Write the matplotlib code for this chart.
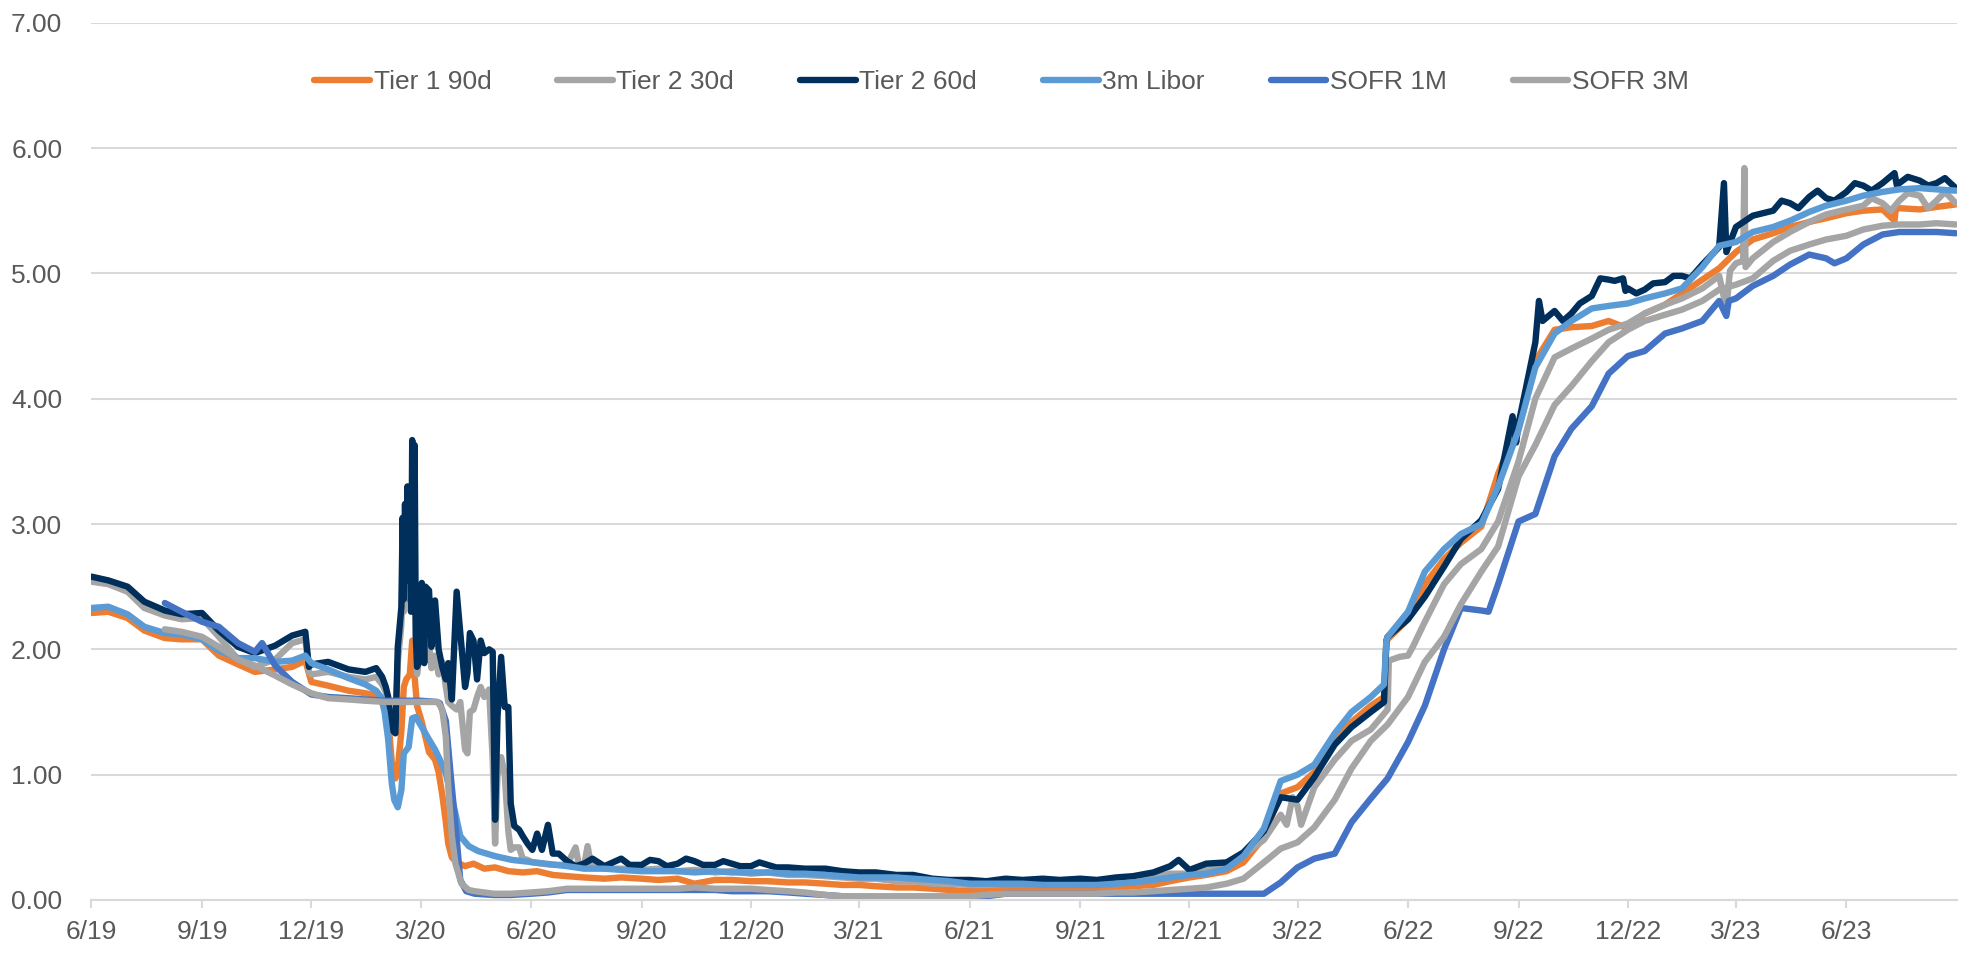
import numpy as np
import pandas as pd
import matplotlib
matplotlib.use("Agg")
import matplotlib.pyplot as plt
from matplotlib import font_manager

nan = np.nan

# Semi-monthly observation grid (1st and 15th) plus the final observation
grid_dates = list(pd.date_range("2019-06-01", "2023-08-15", freq="SMS")) + [pd.Timestamp("2023-08-31")]

series_names = ["Tier 1 90d", "Tier 2 30d", "Tier 2 60d", "3m Libor", "SOFR 1M", "SOFR 3M"]
series_colors = ["#ED7D31", "#A5A5A5", "#002F5C", "#5B9BD5", "#4472C4", "#A5A5A5"]

tick_labels = ["6/19", "9/19", "12/19", "3/20", "6/20", "9/20", "12/20", "3/21", "6/21",
               "9/21", "12/21", "3/22", "6/22", "9/22", "12/22", "3/23", "6/23"]

# ---------------- Tier 1 90d ----------------
tier1_90 = [
    2.29, 2.30, 2.25, 2.15, 2.09, 2.08, 2.08, 1.95, 1.88, 1.82, 1.84, 1.86, 1.74, 1.71,
    1.67, 1.65, nan, nan, nan, nan, nan, nan, nan, nan, nan, nan,
    0.19, 0.18, 0.17, 0.18, 0.17, 0.16, 0.17, 0.13, 0.16, 0.16, 0.15, 0.15,
    0.14, 0.14, 0.13, 0.12, 0.12, 0.11, 0.10, 0.10, 0.09, 0.08, 0.07, 0.09,
    0.09, 0.09, 0.09, 0.09, 0.09, 0.10, 0.10, 0.11, 0.12, 0.15, 0.18, 0.20,
    0.23, 0.30, 0.50, 0.85, 0.90, 1.02, 1.28, 1.42, 1.55, 2.08, 2.24, 2.52,
    2.72, 2.85, 2.98, 3.40, 3.80, 4.30, 4.55, 4.57, 4.58, 4.62, 4.56, 4.68,
    4.75, 4.84, 4.95, 5.04, 5.17, 5.27, 5.32, 5.37, 5.41, 5.44, 5.48, 5.50,
    5.51, 5.52, 5.51, 5.53, 5.55,
]
tier1_90_extra_dates = [
    "2019-11-26", "2020-01-24", "2020-01-29", "2020-02-01", "2020-02-03", "2020-02-06",
    "2020-02-09", "2020-02-11", "2020-02-14", "2020-02-16", "2020-02-18", "2020-02-21",
    "2020-02-23", "2020-02-25", "2020-02-27", "2020-03-02", "2020-03-05", "2020-03-08",
    "2020-03-13", "2020-03-16", "2020-03-19", "2020-03-22", "2020-03-24", "2020-03-27",
    "2020-03-31", "2020-04-07", "2020-04-14", "2020-04-23", "2020-05-02", "2020-05-13",
    "2020-05-25", "2020-06-06", "2020-06-19", "2022-05-12", "2022-05-14", "2023-07-11",
    "2023-07-12",
]
tier1_90_extra_vals = [
    1.91, 1.63, 1.60, 1.55, 1.45, 1.10,
    0.97, 1.05, 1.35, 1.70, 1.76, 1.80,
    2.07, 1.78, 1.55, 1.42, 1.30, 1.18,
    1.12, 1.02, 0.84, 0.62, 0.45, 0.34,
    0.30, 0.27, 0.29, 0.25, 0.26, 0.23,
    0.22, 0.23, 0.20, 1.62, 2.06, 5.42,
    5.51,
]

# ---------------- Tier 2 30d ----------------
tier2_30 = [
    2.54, 2.52, 2.46, 2.33, 2.27, 2.24, 2.25, 2.10, 1.92, 1.86, 1.92, 2.05, 1.80, 1.82,
    1.78, 1.76, nan, nan, nan, nan, nan, nan, nan, nan, nan, nan,
    0.28, 0.27, 0.25, 0.25, 0.24, 0.25, 0.23, 0.24, 0.22, 0.23, 0.21, 0.22,
    0.20, 0.20, 0.19, 0.18, 0.17, 0.17, 0.15, 0.15, 0.13, 0.13, 0.12, 0.12,
    0.13, 0.13, 0.13, 0.13, 0.14, 0.14, 0.15, 0.16, 0.18, 0.21, 0.21, 0.24,
    0.26, 0.36, 0.48, 0.68, 0.75, 0.90, 1.12, 1.27, 1.36, 1.52, 1.95, 2.22,
    2.52, 2.68, 2.80, 3.02, 3.50, 4.00, 4.33, 4.40, 4.48, 4.55, 4.60, 4.68,
    4.75, 4.80, 4.88, 4.98, 5.08, 5.12, 5.25, 5.33, 5.41, 5.47, 5.51, 5.54,
    5.56, 5.58, 5.62, 5.58, 5.56,
]
tier2_30_extra_dates = [
    "2019-11-26", "2019-11-29", "2020-01-24", "2020-01-29", "2020-02-01", "2020-02-03",
    "2020-02-06", "2020-02-09", "2020-02-11", "2020-02-14", "2020-02-15", "2020-02-16",
    "2020-02-17", "2020-02-18", "2020-02-19", "2020-02-20", "2020-02-21", "2020-02-23",
    "2020-02-25", "2020-02-27", "2020-03-02", "2020-03-05", "2020-03-08", "2020-03-10",
    "2020-03-13", "2020-03-16", "2020-03-19", "2020-03-22", "2020-03-24", "2020-03-27",
    "2020-03-31", "2020-04-03", "2020-04-07", "2020-04-09", "2020-04-11", "2020-04-14",
    "2020-04-17", "2020-04-20", "2020-04-23", "2020-04-27", "2020-04-30", "2020-05-02",
    "2020-05-04", "2020-05-07", "2020-05-10", "2020-05-13", "2020-05-15", "2020-05-18",
    "2020-05-22", "2020-05-25", "2020-05-29", "2020-06-02", "2020-06-10", "2020-06-19",
    "2020-06-24", "2020-07-08", "2020-07-11", "2020-07-18", "2020-07-21",
    "2022-02-20", "2022-02-25", "2022-03-04", "2022-05-16", "2022-05-25", "2022-06-05",
    "2023-02-21", "2023-02-24", "2023-03-07", "2023-03-08", "2023-03-09",
    "2023-06-22", "2023-07-08", "2023-07-22", "2023-08-08", "2023-08-22",
]
tier2_30_extra_vals = [
    2.08, 1.82, 1.78, 1.72, 1.66, 1.58,
    1.40, 1.38, 1.90, 2.20, 2.70, 2.30,
    3.05, 2.45, 3.10, 2.40, 2.55, 2.40,
    2.45, 1.80, 2.10, 2.05, 2.05, 1.85,
    1.95, 1.80, 1.90, 1.70, 1.58, 1.55,
    1.52, 1.58, 1.20, 1.17, 1.50, 1.52,
    1.62, 1.70, 1.62, 1.68, 1.12, 0.45,
    1.00, 1.14, 1.00, 0.55, 0.40, 0.42,
    0.42, 0.33, 0.32, 0.30, 0.29, 0.28,
    0.28, 0.42, 0.27, 0.43, 0.27,
    0.60, 0.82, 0.60, 1.91, 1.94, 2.02,
    4.72, 5.02, 5.10, 5.84, 5.05,
    5.60, 5.50, 5.64, 5.52, 5.65,
]

# ---------------- Tier 2 60d ----------------
tier2_60 = [
    2.58, 2.55, 2.50, 2.38, 2.31, 2.28, 2.29, 2.15, 2.02, 1.97, 2.03, 2.11, 1.88, 1.90,
    1.84, 1.82, nan, nan, nan, nan, nan, nan, nan, nan, nan, nan,
    0.31, 0.29, 0.27, 0.33, 0.28, 0.31, 0.29, 0.31, 0.28, 0.29, 0.27, 0.28,
    0.26, 0.25, 0.25, 0.23, 0.22, 0.22, 0.20, 0.20, 0.17, 0.16, 0.16, 0.15,
    0.17, 0.16, 0.17, 0.16, 0.17, 0.16, 0.18, 0.19, 0.22, 0.27, 0.24, 0.29,
    0.30, 0.38, 0.55, 0.82, 0.80, 0.98, 1.24, 1.38, 1.50, 2.10, 2.24, 2.42,
    2.66, 2.88, 3.03, 3.28, 3.80, 4.45, 4.70, 4.68, 4.82, 4.95, 4.88, 4.87,
    4.93, 4.98, 5.07, 5.21, 5.37, 5.46, 5.50, 5.56, 5.61, 5.60, 5.65, 5.70,
    5.72, 5.72, 5.74, 5.72, 5.68,
]
tier2_60_extra_dates = [
    "2019-11-26", "2019-11-29", "2020-01-24", "2020-01-29", "2020-02-01", "2020-02-03",
    "2020-02-06", "2020-02-09", "2020-02-11", "2020-02-14", "2020-02-15", "2020-02-16",
    "2020-02-17", "2020-02-18", "2020-02-19", "2020-02-20", "2020-02-21", "2020-02-22",
    "2020-02-23", "2020-02-24", "2020-02-25", "2020-02-26", "2020-02-27", "2020-02-29",
    "2020-03-02", "2020-03-04", "2020-03-05", "2020-03-08", "2020-03-10", "2020-03-13",
    "2020-03-16", "2020-03-19", "2020-03-22", "2020-03-24", "2020-03-27", "2020-03-31",
    "2020-04-03", "2020-04-07", "2020-04-09", "2020-04-11", "2020-04-14", "2020-04-17",
    "2020-04-20", "2020-04-23", "2020-04-27", "2020-04-30", "2020-05-02", "2020-05-04",
    "2020-05-07", "2020-05-10", "2020-05-13", "2020-05-15", "2020-05-18", "2020-05-22",
    "2020-05-25", "2020-05-29", "2020-06-02", "2020-06-06", "2020-06-10", "2020-06-15",
    "2020-06-19", "2020-06-24",
    "2020-07-08", "2020-07-22", "2020-08-08", "2020-08-22", "2020-09-08", "2020-09-22",
    "2020-10-08", "2020-10-22", "2020-11-08", "2020-11-22", "2020-12-08", "2020-12-22",
    "2021-11-22",
    "2022-05-12", "2022-05-14", "2022-08-27", "2022-08-30", "2022-09-18", "2022-09-21",
    "2022-10-08", "2022-10-22", "2022-11-08", "2022-11-20", "2022-11-27", "2022-11-29",
    "2022-12-08", "2022-12-22", "2023-01-08", "2023-01-22",
    "2023-02-19", "2023-02-21",
    "2023-04-08", "2023-04-22", "2023-05-08", "2023-05-22", "2023-06-08", "2023-06-22",
    "2023-07-11", "2023-07-13", "2023-07-22", "2023-08-08", "2023-08-22",
]
tier2_60_extra_vals = [
    2.14, 1.86, 1.85, 1.78, 1.70, 1.62,
    1.36, 1.33, 2.02, 2.34, 3.05, 2.40,
    3.16, 2.55, 3.30, 2.60, 3.19, 2.30,
    3.67, 2.60, 3.63, 2.10, 1.86, 1.91,
    2.53, 1.89, 2.50, 2.47, 2.02, 2.39,
    2.00, 1.86, 1.76, 1.89, 1.60, 2.46,
    2.13, 1.70, 1.81, 2.13, 2.07, 1.76,
    2.07, 1.97, 2.00, 1.98, 0.64, 1.46,
    1.94, 1.54, 1.54, 0.77, 0.59, 0.56,
    0.51, 0.45, 0.40, 0.53, 0.40, 0.60,
    0.37, 0.37,
    0.27, 0.33, 0.30, 0.28, 0.32, 0.27,
    0.33, 0.28, 0.31, 0.27, 0.30, 0.26,
    0.32,
    1.58, 2.07, 3.86, 3.65, 4.78, 4.62,
    4.62, 4.76, 4.96, 4.94, 4.96, 4.86,
    4.84, 4.92, 4.98, 4.96,
    5.72, 5.17,
    5.58, 5.52, 5.66, 5.58, 5.72, 5.66,
    5.80, 5.70, 5.77, 5.70, 5.76,
]

# ---------------- 3m Libor ----------------
libor_3m = [
    2.33, 2.34, 2.28, 2.18, 2.13, 2.12, 2.08, 1.99, 1.93, 1.93, 1.90, 1.91, 1.89, 1.84,
    1.77, 1.72, nan, nan, nan, nan, nan, nan, nan, nan, nan, nan,
    0.27, 0.25, 0.25, 0.24, 0.23, 0.23, 0.23, 0.22, 0.23, 0.22, 0.22, 0.22,
    0.21, 0.21, 0.20, 0.19, 0.18, 0.18, 0.18, 0.17, 0.16, 0.15, 0.13, 0.13,
    0.13, 0.13, 0.12, 0.12, 0.12, 0.12, 0.13, 0.14, 0.16, 0.18, 0.20, 0.21,
    0.25, 0.35, 0.57, 0.95, 1.00, 1.08, 1.33, 1.50, 1.62, 2.10, 2.30, 2.62,
    2.80, 2.92, 3.00, 3.30, 3.75, 4.25, 4.52, 4.62, 4.72, 4.74, 4.76, 4.80,
    4.84, 4.88, 5.05, 5.22, 5.25, 5.33, 5.37, 5.42, 5.49, 5.54, 5.58, 5.62,
    5.65, 5.67, 5.68, 5.67, 5.66,
]
libor_3m_extra_dates = [
    "2019-11-26", "2020-01-24", "2020-01-28", "2020-01-31", "2020-02-03", "2020-02-06",
    "2020-02-08", "2020-02-11", "2020-02-14", "2020-02-16", "2020-02-20", "2020-02-23",
    "2020-02-26", "2020-03-02", "2020-03-08", "2020-03-13", "2020-03-17", "2020-03-22",
    "2020-03-26", "2020-03-30", "2020-04-03", "2020-04-10", "2020-04-18", "2020-05-02",
    "2020-05-16", "2020-06-13", "2022-05-12", "2022-05-14",
]
libor_3m_extra_vals = [
    1.95, 1.67, 1.62, 1.50, 1.28, 0.93,
    0.80, 0.74, 0.88, 1.17, 1.22, 1.45,
    1.46, 1.38, 1.28, 1.20, 1.12, 1.01,
    0.85, 0.69, 0.51, 0.43, 0.39, 0.35,
    0.32, 0.29, 1.72, 2.07,
]

# ---------------- SOFR 1M ----------------
sofr_1m = [
    nan, nan, nan, nan, 2.37, 2.30, 2.22, 2.18, 2.05, 1.98, 1.87, 1.74, 1.64, 1.62,
    1.61, 1.60, 1.59, 1.59, 1.59, 1.58, nan, 0.05, 0.04, 0.04, 0.05, 0.06,
    0.08, 0.08, 0.08, 0.08, 0.08, 0.08, 0.08, 0.08, 0.08, 0.07, 0.07, 0.07,
    0.06, 0.05, 0.04, 0.03, 0.02, 0.02, 0.01, 0.01, 0.01, 0.01, 0.01, 0.03,
    0.05, 0.05, 0.05, 0.05, 0.05, 0.05, 0.05, 0.05, 0.05, 0.05, 0.05, 0.05,
    0.05, 0.05, 0.05, 0.14, 0.26, 0.33, 0.37, 0.62, 0.81, 0.97, 1.26, 1.55,
    2.00, 2.33, 2.31, 2.52, 3.02, 3.08, 3.54, 3.76, 3.94, 4.20, 4.34, 4.38,
    4.52, 4.56, 4.62, 4.78, 4.80, 4.90, 4.98, 5.07, 5.15, 5.12, 5.12, 5.23,
    5.31, 5.33, 5.33, 5.33, 5.32,
]
sofr_1m_extra_dates = [
    "2019-10-21", "2020-03-17", "2020-03-22", "2020-03-26", "2020-03-30", "2020-04-03",
    "2020-04-08", "2022-08-07", "2023-02-21", "2023-02-23", "2023-05-22",
]
sofr_1m_extra_vals = [
    2.05, 1.57, 1.43, 1.00, 0.60, 0.16,
    0.07, 2.30, 4.66, 4.78, 5.08,
]

# ---------------- SOFR 3M ----------------
sofr_3m = [
    nan, nan, nan, nan, 2.16, 2.14, 2.10, 2.02, 1.92, 1.87, 1.79, 1.72, 1.65, 1.61,
    1.60, 1.59, 1.58, 1.58, 1.58, 1.58, nan, 0.07, 0.05, 0.05, 0.06, 0.07,
    0.09, 0.09, 0.09, 0.09, 0.09, 0.09, 0.09, 0.10, 0.09, 0.09, 0.09, 0.08,
    0.07, 0.06, 0.04, 0.03, 0.03, 0.03, 0.03, 0.03, 0.03, 0.03, 0.03, 0.04,
    0.05, 0.05, 0.05, 0.05, 0.05, 0.05, 0.06, 0.06, 0.07, 0.08, 0.09, 0.10,
    0.13, 0.17, 0.30, 0.41, 0.46, 0.58, 0.80, 1.05, 1.27, 1.40, 1.62, 1.90,
    2.10, 2.36, 2.62, 2.82, 3.38, 3.63, 3.95, 4.10, 4.30, 4.45, 4.55, 4.62,
    4.67, 4.71, 4.78, 4.87, 4.91, 4.96, 5.10, 5.18, 5.23, 5.27, 5.30, 5.35,
    5.38, 5.39, 5.39, 5.40, 5.39,
]
sofr_3m_extra_dates = [
    "2020-03-16", "2020-03-19", "2020-03-22", "2020-03-24", "2020-03-27", "2020-03-30",
    "2020-04-04", "2020-04-10",
]
sofr_3m_extra_vals = [
    1.57, 1.52, 1.30, 0.90, 0.51, 0.29,
    0.13, 0.08,
]


def build_series(grid_vals, extra_dates, extra_vals):
    base = pd.Series(grid_vals, index=pd.DatetimeIndex(grid_dates), dtype=float)
    extra = pd.Series(extra_vals, index=pd.to_datetime(extra_dates), dtype=float)
    return pd.concat([base, extra]).dropna().sort_index()


all_series = [
    build_series(tier1_90, tier1_90_extra_dates, tier1_90_extra_vals),
    build_series(tier2_30, tier2_30_extra_dates, tier2_30_extra_vals),
    build_series(tier2_60, tier2_60_extra_dates, tier2_60_extra_vals),
    build_series(libor_3m, libor_3m_extra_dates, libor_3m_extra_vals),
    build_series(sofr_1m, sofr_1m_extra_dates, sofr_1m_extra_vals),
    build_series(sofr_3m, sofr_3m_extra_dates, sofr_3m_extra_vals),
]

text_color = "#595959"
grid_color = "#D9D9D9"

# Prefer a narrow sans face; otherwise use the regular one at a smaller size
installed = {f.name for f in font_manager.fontManager.ttflist}
if "Liberation Sans Narrow" in installed:
    font_family = ["Liberation Sans Narrow", "DejaVu Sans"]
    font_size = 22.5
    leg_kw = dict(handlelength=1.8, handletextpad=0.1, columnspacing=2.3)
else:
    font_family = ["Liberation Sans", "DejaVu Sans"]
    font_size = 19
    leg_kw = dict(handlelength=2.12, handletextpad=0.12, columnspacing=2.5)

plt.rcParams["font.family"] = font_family

fig = plt.figure(figsize=(19.65, 9.56), dpi=100)
ax = fig.add_axes([0.04656, 0.05858, 0.94936, 0.91768])

for s, name, color in zip(all_series, series_names, series_colors):
    ax.plot(s.index, s.values, color=color, lw=4.6, label=name,
            solid_joinstyle="round", solid_capstyle="round")

ax.set_xlim(pd.Timestamp("2019-06-01"), pd.Timestamp("2023-09-01"))
ax.set_ylim(0, 7)

tick_dates = pd.date_range("2019-06-01", "2023-06-01", freq="3MS")
ax.set_xticks(tick_dates)
ax.set_xticklabels(tick_labels)
ax.set_yticks(np.arange(0, 8, 1))
ax.set_yticklabels([f"{v:.2f}" for v in np.arange(0, 8, 1)])

ax.grid(axis="y", color=grid_color, lw=1.5)
ax.set_axisbelow(True)
for side in ["top", "right", "left"]:
    ax.spines[side].set_visible(False)
ax.spines["bottom"].set_color(grid_color)
ax.spines["bottom"].set_linewidth(1.5)

ax.tick_params(axis="x", colors=grid_color, length=5.5, width=1.5, direction="out",
               pad=9, labelcolor=text_color, labelsize=font_size)
ax.tick_params(axis="y", length=0, pad=21, labelcolor=text_color, labelsize=font_size)

leg = ax.legend(loc="center", bbox_to_anchor=(0.4878, 0.932), ncol=6, frameon=False,
                fontsize=font_size, borderpad=0, **leg_kw)
for t in leg.get_texts():
    t.set_color(text_color)
for h in leg.get_lines():
    h.set_linewidth(4.6)

fig.savefig("out.png", dpi=100)
